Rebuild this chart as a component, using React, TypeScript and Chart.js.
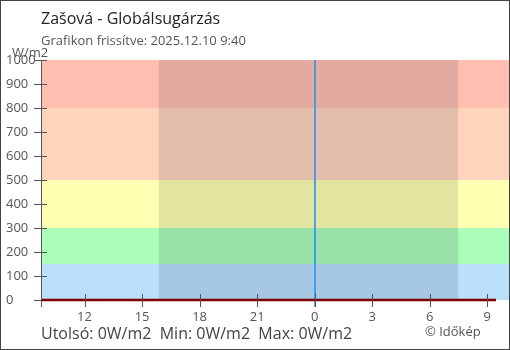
import React, { useEffect, useRef } from "react";
import { Chart, registerables } from "chart.js";

Chart.register(...registerables);

// ---- data ----
const titleText = "Zašová - Globálsugárzás";
const subtitleText = "Grafikon frissítve: 2025.12.10 9:40";
const footerText = "Utolsó: 0W/m2  Min: 0W/m2  Max: 0W/m2";
const creditText = "© Időkép";
const unitText = "W/m2";

// hours counted from midnight of the previous day (24 = 00:00 on 2025.12.10)
const obsHours = [9.75, 10, 11, 12, 13, 14, 15, 16, 17, 18, 19, 20, 21, 22, 23, 24, 25, 26, 27, 28, 29, 30, 31, 32, 33, 33.45];
const obsValues = [0, 0, 0, 0, 0, 0, 0, 0, 0, 0, 0, 0, 0, 0, 0, 0, 0, 0, 0, 0, 0, 0, 0, 0, 0, 0];

const xTickHours = [12, 15, 18, 21, 24, 27, 30, 33];
const xMin = 9.73;
const xMax = 34.13;
const nightStart = 15.87;
const nightEnd = 31.48;
const midnightHour = 24;

const yTicks = [0, 100, 200, 300, 400, 500, 600, 700, 800, 900, 1000];
const bandLimits = [0, 150, 300, 500, 800, 1000];
const bandColors = ["#bbe0fb", "#abfdba", "#ffffb2", "#fed5bc", "#febfb0"];
const nightShade = "rgba(0,0,20,0.105)";

const FONT = "'Open Sans', 'Noto Sans', sans-serif";

const decorPlugin = {
  id: "decor",
  beforeDatasetsDraw(chart: any) {
    const { ctx, chartArea: a, scales } = chart;
    const x = scales.x;
    const y = scales.y;
    ctx.save();
    for (let i = 0; i < bandColors.length; i++) {
      const y0 = y.getPixelForValue(bandLimits[i]);
      const y1 = y.getPixelForValue(bandLimits[i + 1]);
      ctx.fillStyle = bandColors[i];
      ctx.fillRect(a.left, y1, a.right - a.left, y0 - y1);
    }
    const n0 = x.getPixelForValue(nightStart);
    const n1 = x.getPixelForValue(nightEnd);
    ctx.fillStyle = nightShade;
    ctx.fillRect(n0, a.top, n1 - n0, a.bottom - a.top);
    const mx = Math.round(x.getPixelForValue(midnightHour));
    ctx.strokeStyle = "#2196f3";
    ctx.lineWidth = 1.6;
    ctx.beginPath();
    ctx.moveTo(mx, a.top);
    ctx.lineTo(mx, a.bottom + 7);
    ctx.stroke();
    ctx.restore();
  },
  afterDraw(chart: any) {
    const { ctx, chartArea: a, scales } = chart;
    const x = scales.x;
    const y = scales.y;
    ctx.save();
    ctx.strokeStyle = "#555";
    ctx.lineWidth = 1;
    // y axis line
    const ax = Math.round(a.left) + 0.5;
    ctx.beginPath();
    ctx.moveTo(ax, a.top);
    ctx.lineTo(ax, a.bottom + 7);
    ctx.stroke();
    // y ticks (crossing)
    for (const v of yTicks) {
      const py = Math.round(y.getPixelForValue(v)) + 0.5;
      ctx.beginPath();
      ctx.moveTo(a.left - 7, py);
      ctx.lineTo(v === 0 ? a.left : a.left + 6, py);
      ctx.stroke();
    }
    // x ticks (crossing)
    for (const v of xTickHours) {
      const px = Math.round(x.getPixelForValue(v)) + 0.5;
      ctx.beginPath();
      ctx.moveTo(px, a.bottom - 6);
      ctx.lineTo(px, a.bottom + 7);
      ctx.stroke();
    }
    // texts
    ctx.textAlign = "left";
    ctx.textBaseline = "alphabetic";
    ctx.fillStyle = "#222";
    ctx.font = `16px ${FONT}`;
    ctx.fillText(titleText, 41, 24);
    ctx.fillStyle = "#555";
    ctx.font = `13px ${FONT}`;
    ctx.fillText(subtitleText, 41, 45);
    ctx.fillText(unitText, 12, 57);
    ctx.fillStyle = "#444";
    ctx.font = `16px ${FONT}`;
    ctx.fillText(footerText, 41, 339);
    ctx.fillStyle = "#555";
    ctx.font = `13px ${FONT}`;
    ctx.fillText(creditText, 425, 336);
    // outer border
    ctx.strokeStyle = "#444";
    ctx.lineWidth = 1;
    ctx.strokeRect(0.5, 0.5, 509, 349);
    ctx.restore();
  },
};

export default function App() {
  const ref = useRef<HTMLCanvasElement | null>(null);
  useEffect(() => {
    document.body.style.margin = "0";
    if (!ref.current) return;
    const chart = new Chart(ref.current, {
      type: "line",
      data: {
        datasets: [
          {
            data: obsHours.map((h, i) => ({ x: h, y: obsValues[i] })),
            borderColor: "#800000",
            borderWidth: 2.5,
            pointRadius: 0,
            fill: false,
            tension: 0,
            clip: false as any,
          },
        ],
      },
      options: {
        animation: false,
        responsive: false,
        events: [],
        layout: { padding: { top: 60, left: 6, right: 1, bottom: 0 } },
        plugins: { legend: { display: false }, tooltip: { enabled: false }, title: { display: false } },
        scales: {
          x: {
            type: "linear",
            min: xMin,
            max: xMax,
            afterBuildTicks: (s: any) => {
              s.ticks = xTickHours.map((v) => ({ value: v }));
            },
            afterFit: (s: any) => {
              s.height = 50;
            },
            grid: { display: false, drawTicks: false },
            border: { display: false },
            ticks: {
              autoSkip: false,
              maxRotation: 0,
              padding: 9,
              color: "#555",
              font: { family: FONT, size: 13 },
              callback: (v: any) => String(Number(v) % 24),
            },
          },
          y: {
            min: 0,
            max: 1000,
            afterBuildTicks: (s: any) => {
              s.ticks = yTicks.map((v) => ({ value: v }));
            },
            afterFit: (s: any) => {
              s.width = 35;
            },
            grid: { display: false, drawTicks: false },
            border: { display: false },
            ticks: {
              crossAlign: "far",
              color: "#555",
              font: { family: FONT, size: 13 },
              callback: (v: any) => String(v),
            },
          },
        },
      },
      plugins: [decorPlugin],
    });
    return () => chart.destroy();
  }, []);
  return (
    <div style={{ width: 510, height: 350 }}>
      <canvas ref={ref} width={510} height={350} style={{ display: "block" }} />
    </div>
  );
}
